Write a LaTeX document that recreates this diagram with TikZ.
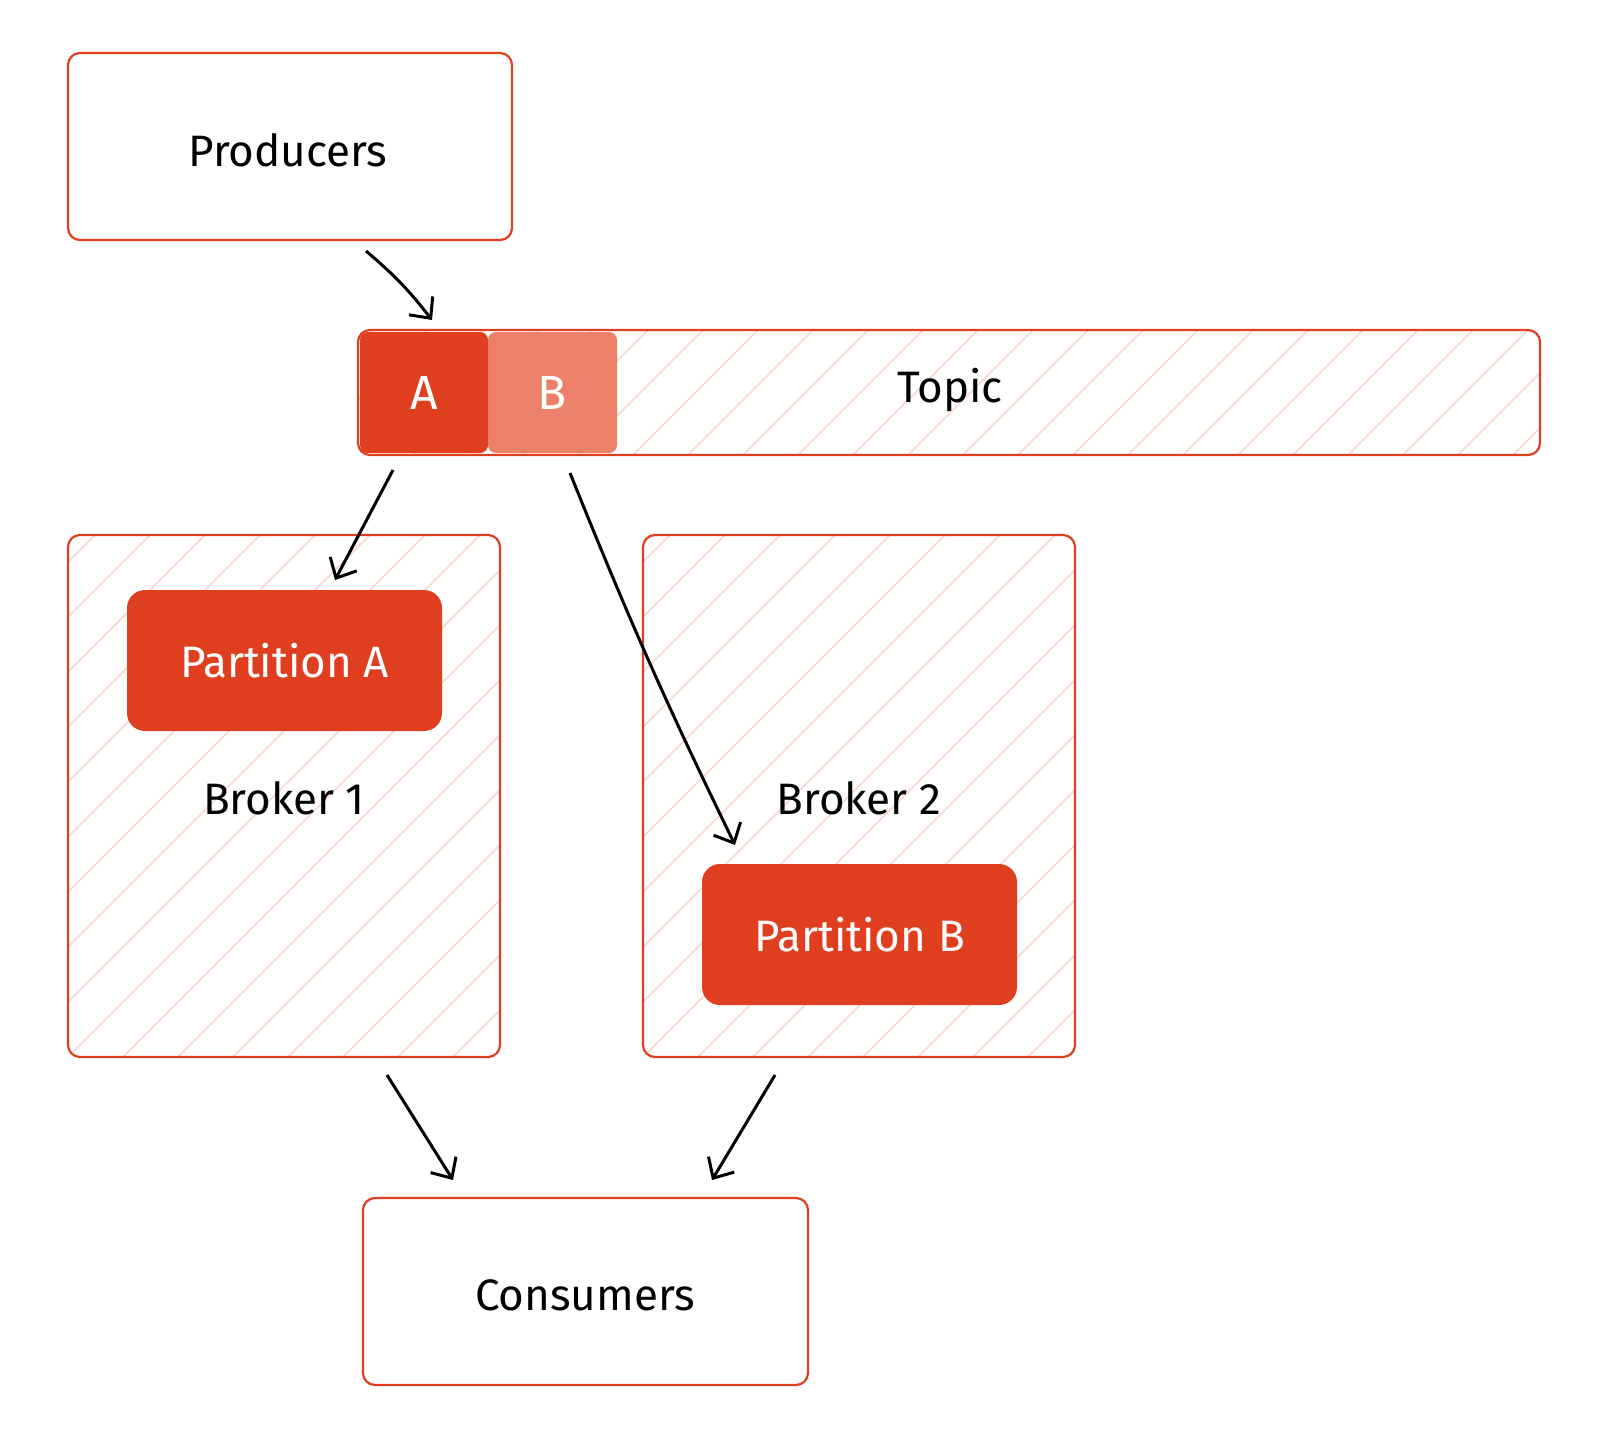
\documentclass[tikz,border=0pt]{standalone}
\usepackage{fontspec}
\setmainfont{Fira Sans}
\usetikzlibrary{arrows.meta}
\definecolor{kred}{HTML}{E03F1F}
\definecolor{kred2}{HTML}{EC8068}
\definecolor{hatch}{HTML}{F9D6CE}
\tikzset{
  frame/.style={draw=kred,line width=2.2pt,rounded corners=12pt},
  part/.style={fill=kred,rounded corners=18pt,text=white,font=\fontsize{44}{44}\selectfont},
  lbl/.style={font=\fontsize{44}{44}\selectfont},
  arr/.style={line width=3pt,-{Straight Barb[length=16pt,width=30pt,line width=3pt]}},
}
\newcommand{\hatchbox}[4]{%
  \begin{scope}
  \clip[rounded corners=10pt] (#1,#2) rectangle (#3,#4);
  \foreach \k in {-1650,-1595,...,1600}{\draw[hatch,line width=1.6pt] (#1+\k,#4) -- ++(1500,-1500);}
  \end{scope}}
\begin{document}
\begin{tikzpicture}[x=1pt,y=-1pt]
\useasboundingbox (0,0) rectangle (1600,1438);
% producers
\draw[frame] (68,53) rectangle (512,240);
\node[lbl] (prod) at (288,150) {Producers};
% topic
\hatchbox{358}{330}{1540}{455}
\draw[frame] (358,330) rectangle (1540,455);
\node[lbl] (topic) at (950,390) {Topic};
\fill[kred2,rounded corners=8pt] (488,332) rectangle (617,453);
\node[text=white,font=\fontsize{48}{48}\selectfont] (b) at (552,393) {B};
\fill[kred,rounded corners=8pt] (360,332) rectangle (488,453);
\node[text=white,font=\fontsize{48}{48}\selectfont] (a) at (424,393) {A};
% brokers
\hatchbox{68}{535}{500}{1057}
\draw[frame] (68,535) rectangle (500,1057);
\hatchbox{643}{535}{1075}{1057}
\draw[frame] (643,535) rectangle (1075,1057);
\node[part,minimum width=315pt,minimum height=141pt] (pa) at (284.5,660.5) {Partition A};
\node[lbl] (b1) at (284,798) {Broker 1};
\node[part,minimum width=315pt,minimum height=141pt] (pb) at (859.5,934.5) {Partition B};
\node[lbl] (b2) at (859,798) {Broker 2};
% consumers
\draw[frame] (363,1198) rectangle (808,1385);
\node[lbl] (cons) at (585,1295) {Consumers};
% arrows
\coordinate (p1) at (366,251); \coordinate (p2) at (432,320);
\coordinate (t1) at (393,470); \coordinate (t2) at (335,580);
\coordinate (t3) at (570,473); \coordinate (t4) at (735,845);
\coordinate (c1) at (387,1075); \coordinate (c2) at (453,1180);
\coordinate (c3) at (775,1075); \coordinate (c4) at (712,1180);
\draw[arr] (p1) to[bend left=6] (p2);
\draw[arr] (t1) -- (t2);
\draw[arr] (t3) to[bend right=2] (t4);
\draw[arr] (c1) -- (c2);
\draw[arr] (c3) -- (c4);
\end{tikzpicture}
\end{document}
